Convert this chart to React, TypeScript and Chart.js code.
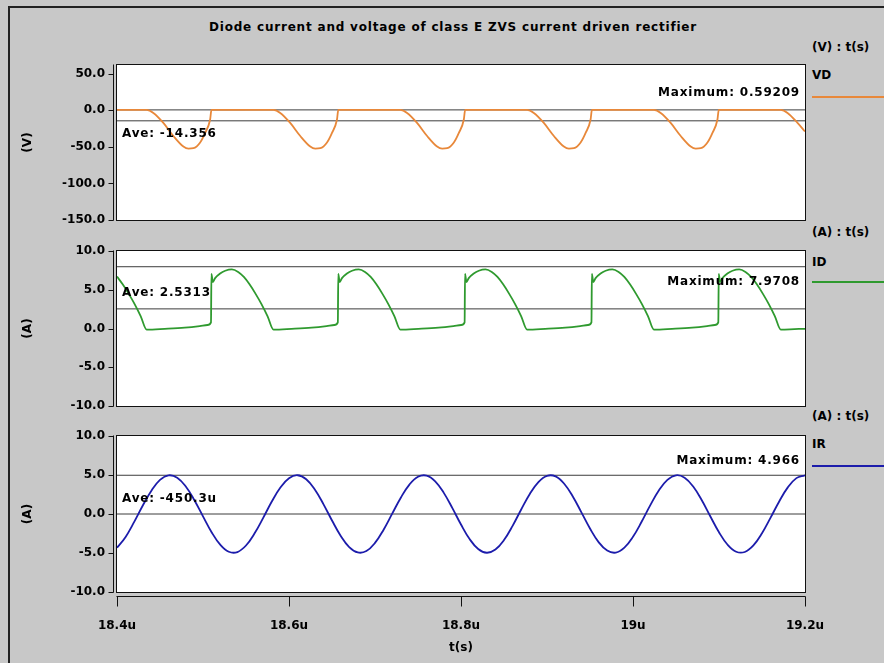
import React, { useEffect, useRef } from 'react';
import { Chart, registerables } from 'chart.js';

Chart.register(...registerables);

const TITLE = 'Diode current and voltage of class E ZVS current driven rectifier';
const X_MIN = 18.4;
const X_MAX = 19.2;
const X_STEP = 0.2;
const X_TITLE = 't(s)';

// VD : diode voltage (V)
const VD_T = [
  18.4000, 18.4345, 18.4423, 18.4539, 18.4656, 18.4772, 18.4831, 18.4889, 18.4967, 18.5025, 18.5083, 18.5098,
  18.5820, 18.5898, 18.6014, 18.6131, 18.6247, 18.6306, 18.6364, 18.6442, 18.6500, 18.6558, 18.6573,
  18.7295, 18.7373, 18.7489, 18.7606, 18.7722, 18.7781, 18.7839, 18.7917, 18.7975, 18.8033, 18.8048,
  18.8769, 18.8847, 18.8963, 18.9080, 18.9196, 18.9255, 18.9313, 18.9391, 18.9449, 18.9507, 18.9522,
  19.0244, 19.0322, 19.0438, 19.0555, 19.0671, 19.0730, 19.0788, 19.0866, 19.0924, 19.0982, 19.0997,
  19.1719, 19.1797, 19.1913, 19.2000,
];
const VD_V = [
  0.5, 0.5, -3.6, -17.2, -35.1, -49.5, -52.3, -51.8, -44, -30.9, -12.5, 0.5,
  0.5, -3.6, -17.2, -35.1, -49.5, -52.3, -51.8, -44, -30.9, -12.5, 0.5,
  0.5, -3.6, -17.2, -35.1, -49.5, -52.3, -51.8, -44, -30.9, -12.5, 0.5,
  0.5, -3.6, -17.2, -35.1, -49.5, -52.3, -51.8, -44, -30.9, -12.5, 0.5,
  0.5, -3.6, -17.2, -35.1, -49.5, -52.3, -51.8, -44, -30.9, -12.5, 0.5,
  0.5, -3.6, -17.2, -29,
];
const VD_MAX = 0.59209;
const VD_AVE = -14.356;

// ID : diode current (A)
const ID_T = [
  18.4000, 18.4066, 18.4135, 18.4205, 18.4275, 18.4345, 18.4555, 18.4788, 18.4962, 18.5052,
  18.5093, 18.5098, 18.5114, 18.5141, 18.5199, 18.5258, 18.5336, 18.5409, 18.5475, 18.5541, 18.5610, 18.5680, 18.5750, 18.5820, 18.6030, 18.6263, 18.6437, 18.6527,
  18.6568, 18.6573, 18.6589, 18.6616, 18.6674, 18.6733, 18.6811, 18.6884, 18.6950, 18.7016, 18.7085, 18.7155, 18.7225, 18.7295, 18.7505, 18.7738, 18.7912, 18.8002,
  18.8042, 18.8047, 18.8063, 18.8090, 18.8148, 18.8207, 18.8285, 18.8358, 18.8424, 18.8490, 18.8559, 18.8629, 18.8699, 18.8769, 18.8979, 18.9212, 18.9386, 18.9476,
  18.9517, 18.9522, 18.9538, 18.9565, 18.9623, 18.9682, 18.9760, 18.9833, 18.9899, 18.9965, 19.0034, 19.0104, 19.0174, 19.0244, 19.0454, 19.0687, 19.0861, 19.0951,
  19.0992, 19.0997, 19.1013, 19.1040, 19.1098, 19.1157, 19.1235, 19.1308, 19.1374, 19.1440, 19.1509, 19.1579, 19.1649, 19.1719, 19.1929, 19.2000,
];
const ID_V = [
  6.7, 5.7, 4.5, 3.15, 1.6, -0.15, -0.05, 0.1, 0.3, 0.45,
  0.8, 7.05, 6.0, 6.5, 7.1, 7.45, 7.62, 7.3, 6.65, 5.7, 4.5, 3.15, 1.6, -0.15, -0.05, 0.1, 0.3, 0.45,
  0.8, 7.05, 6.0, 6.5, 7.1, 7.45, 7.62, 7.3, 6.65, 5.7, 4.5, 3.15, 1.6, -0.15, -0.05, 0.1, 0.3, 0.45,
  0.8, 7.05, 6.0, 6.5, 7.1, 7.45, 7.62, 7.3, 6.65, 5.7, 4.5, 3.15, 1.6, -0.15, -0.05, 0.1, 0.3, 0.45,
  0.8, 7.05, 6.0, 6.5, 7.1, 7.45, 7.62, 7.3, 6.65, 5.7, 4.5, 3.15, 1.6, -0.15, -0.05, 0.1, 0.3, 0.45,
  0.8, 7.05, 6.0, 6.5, 7.1, 7.45, 7.62, 7.3, 6.65, 5.7, 4.5, 3.15, 1.6, -0.15, -0.05, -0.05,
];
const ID_MAX = 7.9708;
const ID_AVE = 2.5313;

// IR : load current (A)
const IR_T = [
  18.40, 18.41, 18.42, 18.43, 18.44, 18.45, 18.46, 18.47, 18.48, 18.49,
  18.50, 18.51, 18.52, 18.53, 18.54, 18.55, 18.56, 18.57, 18.58, 18.59,
  18.60, 18.61, 18.62, 18.63, 18.64, 18.65, 18.66, 18.67, 18.68, 18.69,
  18.70, 18.71, 18.72, 18.73, 18.74, 18.75, 18.76, 18.77, 18.78, 18.79,
  18.80, 18.81, 18.82, 18.83, 18.84, 18.85, 18.86, 18.87, 18.88, 18.89,
  18.90, 18.91, 18.92, 18.93, 18.94, 18.95, 18.96, 18.97, 18.98, 18.99,
  19.00, 19.01, 19.02, 19.03, 19.04, 19.05, 19.06, 19.07, 19.08, 19.09,
  19.10, 19.11, 19.12, 19.13, 19.14, 19.15, 19.16, 19.17, 19.18, 19.19,
  19.20,
];
const IR_V = [
  -4.33, -2.94, -1.01, 1.09, 2.99, 4.37, 4.96, 4.66, 3.53, 1.77,
  -0.30, -2.33, -3.93, -4.84, -4.88, -4.04, -2.48, -0.49, 1.60, 3.40,
  4.59, 4.97, 4.45, 3.14, 1.27, -0.83, -2.78, -4.24, -4.93, -4.75,
  -3.71, -2.01, 0.04, 2.09, 3.77, 4.77, 4.92, 4.19, 2.71, 0.75,
  -1.35, -3.21, -4.49, -4.97, -4.56, -3.34, -1.52, 0.58, 2.56, 4.09,
  4.89, 4.82, 3.88, 2.25, 0.21, -1.86, -3.60, -4.69, -4.95, -4.32,
  -2.92, -1.00, 1.10, 3.01, 4.37, 4.96, 4.66, 3.52, 1.76, -0.32,
  -2.34, -3.94, -4.84, -4.87, -4.03, -2.47, -0.47, 1.61, 3.41, 4.60,
  4.97,
];
const IR_MAX = 4.966;
const IR_AVE = -450.3e-6;

const W = 884;
const H = 663;
const PLOT_LEFT = 117;
const PLOT_RIGHT = 805;
const FAMILY = '"DejaVu Sans", "Liberation Sans", Arial, sans-serif';
const FONT = { family: FAMILY, size: 12, weight: 'bold' as const };

type Panel = {
  name: string;
  unit: string;
  t: number[];
  v: number[];
  color: string;
  smooth: boolean;
  yMin: number;
  yMax: number;
  yStep: number;
  yTitle: string;
  max: number;
  maxText: string;
  maxDy: number;
  ave: number;
  aveText: string;
  aveDy: number;
  top: number;
  bottom: number;
  showX: boolean;
  unitY: number;
  nameY: number;
  legendY: number;
};

const PANELS: Panel[] = [
  {
    name: 'VD', unit: '(V) : t(s)', t: VD_T, v: VD_V, color: '#e8883a', smooth: false,
    yMin: -150, yMax: 62, yStep: 50, yTitle: '(V)',
    max: VD_MAX, maxText: 'Maximum: ' + VD_MAX, maxDy: -17,
    ave: VD_AVE, aveText: 'Ave: ' + VD_AVE, aveDy: 13,
    top: 65, bottom: 220, showX: false, unitY: 47, nameY: 75, legendY: 97,
  },
  {
    name: 'ID', unit: '(A) : t(s)', t: ID_T, v: ID_V, color: '#2f9a2f', smooth: false,
    yMin: -10, yMax: 10, yStep: 5, yTitle: '(A)',
    max: ID_MAX, maxText: 'Maximum: ' + ID_MAX, maxDy: 15,
    ave: ID_AVE, aveText: 'Ave: ' + ID_AVE, aveDy: -16,
    top: 251, bottom: 406, showX: false, unitY: 232, nameY: 262, legendY: 282,
  },
  {
    name: 'IR', unit: '(A) : t(s)', t: IR_T, v: IR_V, color: '#1c1cab', smooth: true,
    yMin: -10, yMax: 10, yStep: 5, yTitle: '(A)',
    max: IR_MAX, maxText: 'Maximum: ' + IR_MAX, maxDy: -14,
    ave: IR_AVE, aveText: 'Ave: -450.3u', aveDy: -15,
    top: 436, bottom: 592, showX: true, unitY: 416, nameY: 444, legendY: 466,
  },
];

function decor(p: Panel) {
  return {
    id: 'decor',
    beforeDraw(chart: any) {
      const { ctx, chartArea: a } = chart;
      ctx.save();
      ctx.fillStyle = '#ffffff';
      ctx.fillRect(a.left, a.top, a.right - a.left, a.bottom - a.top);
      ctx.restore();
    },
    afterDatasetsDraw(chart: any) {
      const { ctx, chartArea: a, scales } = chart;
      const l = Math.round(a.left);
      const r = Math.round(a.right);
      const t = Math.round(a.top);
      const b = Math.round(a.bottom);
      ctx.save();
      ctx.strokeStyle = '#111111';
      ctx.lineWidth = 1;
      ctx.strokeRect(l - 0.5, t - 0.5, r - l + 1, b - t + 1);
      const ax = l - 3.5;
      ctx.beginPath();
      ctx.moveTo(ax, t - 0.5);
      ctx.lineTo(ax, b + 0.5);
      for (const tk of scales.y.ticks) {
        const y = Math.round(scales.y.getPixelForValue(tk.value)) + 0.5;
        ctx.moveTo(ax - 5, y);
        ctx.lineTo(ax, y);
      }
      ctx.stroke();
      if (p.showX) {
        const ay = b + 4.5;
        ctx.beginPath();
        ctx.moveTo(l - 0.5, ay);
        ctx.lineTo(r + 0.5, ay);
        for (const tk of scales.x.ticks) {
          const x = Math.round(scales.x.getPixelForValue(tk.value)) + 0.5;
          ctx.moveTo(x, ay);
          ctx.lineTo(x, ay + 10);
        }
        ctx.stroke();
      }
      ctx.font = `bold 12px ${FAMILY}`;
      try { (ctx as any).letterSpacing = '0.8px'; } catch (e) { /* ignore */ }
      ctx.fillStyle = '#000000';
      ctx.textBaseline = 'middle';
      const yMax = scales.y.getPixelForValue(p.max);
      const yAve = scales.y.getPixelForValue(p.ave);
      ctx.textAlign = 'right';
      ctx.fillText(p.maxText, r - 5, yMax + p.maxDy);
      ctx.textAlign = 'left';
      ctx.fillText(p.aveText, l + 5, yAve + p.aveDy);
      ctx.restore();
    },
  };
}

const fmtX = (v: number) => String(Math.round(v * 10) / 10) + 'u';

function PanelChart({ p }: { p: Panel }) {
  const ref = useRef<HTMLCanvasElement | null>(null);
  useEffect(() => {
    if (!ref.current) return;
    const lineDs = (y: number) => ({
      data: [{ x: X_MIN, y }, { x: X_MAX, y }],
      borderColor: '#3c3c3c',
      borderWidth: 1,
      pointRadius: 0,
      tension: 0,
      fill: false,
      order: 1,
    });
    const chart = new Chart(ref.current, {
      type: 'line',
      data: {
        datasets: [
          {
            data: p.t.map((x, i) => ({ x, y: p.v[i] })),
            borderColor: p.color,
            borderWidth: 1.8,
            pointRadius: 0,
            ...(p.smooth ? { tension: 0.4 } : { cubicInterpolationMode: 'monotone' }),
            fill: false,
            order: 0,
          },
          lineDs(p.max),
          lineDs(p.ave),
        ],
      } as any,
      options: {
        animation: false,
        responsive: false,
        events: [],
        layout: {
          padding: { left: 0, right: W - PLOT_RIGHT, top: p.top, bottom: p.showX ? 0 : H - p.bottom },
        },
        plugins: { legend: { display: false }, tooltip: { enabled: false }, title: { display: false } },
        scales: {
          x: {
            type: 'linear',
            min: X_MIN,
            max: X_MAX,
            display: p.showX,
            grid: { display: false, drawTicks: false },
            border: { display: false },
            ticks: {
              stepSize: X_STEP,
              autoSkip: false,
              maxRotation: 0,
              padding: 27,
              color: '#000000',
              font: FONT,
              callback: (v: any) => fmtX(Number(v)),
            },
            title: { display: true, text: X_TITLE, color: '#000000', font: FONT, padding: { top: 0, bottom: 8 } },
            afterFit: (s: any) => { s.height = p.showX ? H - p.bottom : 0; },
          },
          y: {
            type: 'linear',
            min: p.yMin,
            max: p.yMax,
            grid: { display: false, drawTicks: false },
            border: { display: false },
            ticks: {
              stepSize: p.yStep,
              includeBounds: false,
              padding: 12,
              color: '#000000',
              font: FONT,
              callback: (v: any) => Number(v).toFixed(1),
            },
            title: { display: true, text: p.yTitle, color: '#000000', font: FONT, padding: { top: 21, bottom: 0 } },
            afterFit: (s: any) => { s.width = PLOT_LEFT; },
          },
        },
      } as any,
      plugins: [decor(p)],
    });
    return () => chart.destroy();
  }, [p]);
  return (
    <canvas
      ref={ref}
      width={W}
      height={H}
      style={{ position: 'absolute', left: 0, top: 0, width: W, height: H }}
    />
  );
}

const textStyle: React.CSSProperties = {
  position: 'absolute',
  fontFamily: FAMILY,
  fontWeight: 'bold',
  fontSize: 12,
  color: '#000',
  height: 16,
  lineHeight: '16px',
  whiteSpace: 'nowrap',
};

export default function App() {
  return (
    <div
      style={{
        position: 'absolute', left: 0, top: 0, width: W, height: H,
        background: '#c8c8c8', overflow: 'hidden',
      }}
    >
      <div
        style={{
          position: 'absolute', left: 8, top: 6, right: -10, bottom: -10,
          borderLeft: '2px solid #222', borderTop: '2px solid #222',
        }}
      />
      <div style={{ ...textStyle, left: 0, width: 906, textAlign: 'center', top: 27 - 8, letterSpacing: '0.8px' }}>{TITLE}</div>
      {PANELS.map((p) => (
        <React.Fragment key={p.name}>
          <div style={{ ...textStyle, left: 812, top: p.unitY - 8 }}>{p.unit}</div>
          <div style={{ ...textStyle, left: 812, top: p.nameY - 8 }}>{p.name}</div>
          <div style={{ position: 'absolute', left: 812, width: 80, top: p.legendY - 1, height: 2, background: p.color }} />
        </React.Fragment>
      ))}
      {PANELS.map((p) => (
        <PanelChart key={p.name} p={p} />
      ))}
    </div>
  );
}
